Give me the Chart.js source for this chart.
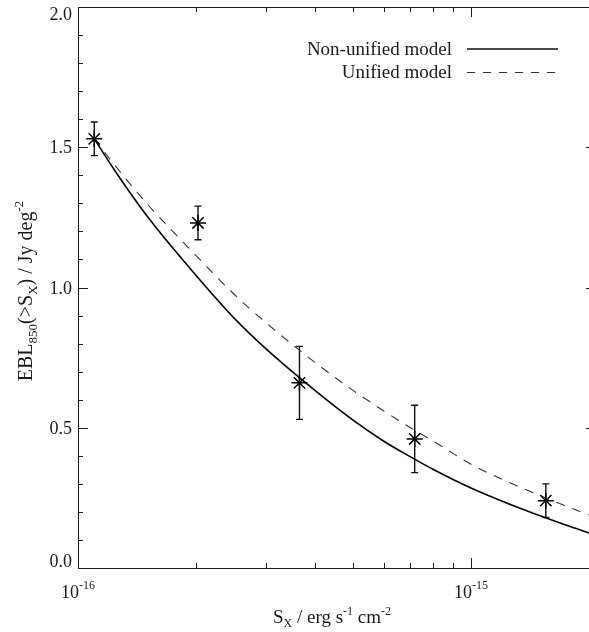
<!DOCTYPE html>
<html>
<head>
<meta charset="utf-8">
<script src="https://cdn.jsdelivr.net/npm/chart.js@4/dist/chart.umd.min.js"></script>
<style>
  html, body { margin: 0; padding: 0; background: #fff; overflow: hidden; }
  #wrap { width: 589px; height: 632px; overflow: hidden; }
</style>
</head>
<body>
<div id="wrap"><canvas id="c" width="597" height="632"></canvas></div>
<script>
// Measured cumulative 850-micron background above an X-ray flux limit
const fluxPoints = [1.10e-16, 2.02e-16, 3.66e-16, 7.19e-16, 1.55e-15];
const eblPoints  = [1.53, 1.23, 0.66, 0.46, 0.24];
const eblErrors  = [0.06, 0.06, 0.13, 0.12, 0.06];

// Model predictions
const modelFlux  = [1.1e-16, 1.25e-16, 1.5e-16, 2e-16, 2.5e-16, 3e-16, 4e-16, 5e-16,
                    6e-16, 7e-16, 8e-16, 1e-15, 1.25e-15, 1.5e-15, 1.75e-15, 2e-15];
const nonUnified = [1.53, 1.410, 1.254, 1.042, 0.890, 0.783, 0.634, 0.528,
                    0.452, 0.397, 0.352, 0.285, 0.228, 0.186, 0.152, 0.125];
const unified    = [1.53, 1.430, 1.298, 1.113, 0.975, 0.876, 0.734, 0.634,
                    0.560, 0.501, 0.453, 0.370, 0.305, 0.258, 0.220, 0.189];

// Axis ticks
const xMajorTicks = [1e-16, 1e-15];
const xMajorLabels = [['10', '-16'], ['10', '-15']];
const xMinorTicks = [2e-16, 3e-16, 4e-16, 5e-16, 6e-16, 7e-16, 8e-16, 9e-16, 2e-15];
const yMajorTicks = [0, 0.5, 1.0, 1.5, 2.0];
const yMajorLabels = ['0.0', '0.5', '1.0', '1.5', '2.0'];
const yMinorTicks = [0.1, 0.2, 0.3, 0.4, 0.6, 0.7, 0.8, 0.9, 1.1, 1.2, 1.3, 1.4, 1.6, 1.7, 1.8, 1.9];

const legendLabels = ['Non-unified model', 'Unified model'];

const FONT = '"Liberation Serif", "Times New Roman", serif';
const INK = '#1a1a1a';

function pairs(xs, ys) { return xs.map((x, i) => ({ x: x, y: ys[i] })); }

// Draw a run of text pieces with differing sizes / baseline shifts
function richText(ctx, parts, x, y, align) {
  let total = 0;
  parts.forEach(p => { ctx.font = p.size + 'px ' + FONT; total += ctx.measureText(p.t).width; });
  let cx = align === 'center' ? x - total / 2 : (align === 'right' ? x - total : x);
  ctx.textAlign = 'left';
  ctx.textBaseline = 'alphabetic';
  parts.forEach(p => {
    ctx.font = p.size + 'px ' + FONT;
    ctx.fillText(p.t, cx, y + (p.dy || 0));
    cx += ctx.measureText(p.t).width;
  });
}

const framePlugin = {
  id: 'frame',
  beforeDatasetsDraw(chart) {
    const { ctx, scales: { x, y } } = chart;
    ctx.save();
    // error bars
    ctx.strokeStyle = '#111';
    ctx.lineWidth = 1.4;
    fluxPoints.forEach((f, i) => {
      const px = x.getPixelForValue(f);
      const top = y.getPixelForValue(eblPoints[i] + eblErrors[i]);
      const bot = y.getPixelForValue(eblPoints[i] - eblErrors[i]);
      ctx.beginPath();
      ctx.moveTo(px, top); ctx.lineTo(px, bot);
      ctx.moveTo(px - 3.5, top); ctx.lineTo(px + 3.5, top);
      ctx.moveTo(px - 3.5, bot); ctx.lineTo(px + 3.5, bot);
      ctx.stroke();
    });
    ctx.restore();
  },
  afterDraw(chart) {
    const { ctx, chartArea: a, scales: { x, y } } = chart;
    ctx.save();
    ctx.strokeStyle = INK;
    ctx.lineWidth = 1;
    // frame
    ctx.strokeRect(a.left + 0.5, a.top + 0.5, a.right - a.left - 1, a.bottom - a.top);
    // ticks on all four sides, pointing inward
    ctx.beginPath();
    const xt = (v, len) => {
      const px = Math.round(x.getPixelForValue(v)) + 0.5;
      ctx.moveTo(px, a.bottom); ctx.lineTo(px, a.bottom - len);
      ctx.moveTo(px, a.top); ctx.lineTo(px, a.top + len);
    };
    const yt = (v, len) => {
      const py = Math.round(y.getPixelForValue(v)) + 0.5;
      ctx.moveTo(a.left, py); ctx.lineTo(a.left + len, py);
      ctx.moveTo(a.right, py); ctx.lineTo(a.right - len, py);
    };
    xMajorTicks.forEach(v => xt(v, 10));
    xMinorTicks.forEach(v => xt(v, 5));
    yMajorTicks.forEach(v => yt(v, 10));
    yMinorTicks.forEach(v => yt(v, 5));
    ctx.stroke();

    ctx.fillStyle = INK;
    // y tick labels
    ctx.font = '18px ' + FONT;
    ctx.textAlign = 'right';
    ctx.textBaseline = 'middle';
    yMajorTicks.forEach((v, i) => {
      const py = y.getPixelForValue(v);
      const cy = Math.min(Math.max(py + 1.5, a.top + 8), a.bottom - 6);
      ctx.fillText(yMajorLabels[i], a.left - 6, cy);
    });
    // x tick labels (power of ten)
    xMajorTicks.forEach((v, i) => {
      const px = x.getPixelForValue(v);
      richText(ctx, [
        { t: xMajorLabels[i][0], size: 18 },
        { t: xMajorLabels[i][1], size: 12, dy: -9 }
      ], px, a.bottom + 30, 'center');
    });
    // x axis title
    richText(ctx, [
      { t: 'S', size: 19 },
      { t: 'X', size: 12, dy: 4 },
      { t: ' / erg s', size: 19 },
      { t: '-1', size: 12, dy: -8 },
      { t: ' cm', size: 19 },
      { t: '-2', size: 12, dy: -8 }
    ], 332, 623, 'center');
    // y axis title
    ctx.save();
    ctx.translate(32, 291);
    ctx.rotate(-Math.PI / 2);
    richText(ctx, [
      { t: 'EBL', size: 20 },
      { t: '850', size: 13, dy: 5 },
      { t: '(>S', size: 20 },
      { t: 'X', size: 13, dy: 5 },
      { t: ') / Jy deg', size: 20 },
      { t: '-2', size: 13, dy: -9 }
    ], 0, 0, 'center');
    ctx.restore();

    // legend
    ctx.font = '19px ' + FONT;
    ctx.textAlign = 'right';
    ctx.textBaseline = 'alphabetic';
    ctx.fillText(legendLabels[0], 452, 55);
    ctx.fillText(legendLabels[1], 452, 78);
    ctx.lineWidth = 1.3;
    ctx.strokeStyle = '#111';
    ctx.beginPath(); ctx.moveTo(467, 49); ctx.lineTo(558, 49); ctx.stroke();
    ctx.setLineDash([8, 8]);
    ctx.strokeStyle = '#333';
    ctx.lineWidth = 1.1;
    ctx.beginPath(); ctx.moveTo(467, 72.5); ctx.lineTo(558, 72.5); ctx.stroke();
    ctx.restore();
  }
};

new Chart(document.getElementById('c').getContext('2d'), {
  type: 'scatter',
  data: {
    datasets: [
      {
        label: legendLabels[0],
        data: pairs(modelFlux, nonUnified),
        showLine: true,
        borderColor: '#000',
        borderWidth: 1.6,
        pointRadius: 0,
        cubicInterpolationMode: 'monotone',
        fill: false
      },
      {
        label: legendLabels[1],
        data: pairs(modelFlux, unified),
        showLine: true,
        borderColor: '#333',
        borderWidth: 1.1,
        borderDash: [9, 8],
        pointRadius: 0,
        cubicInterpolationMode: 'monotone',
        fill: false
      },
      {
        label: 'EBL',
        data: pairs(fluxPoints, eblPoints),
        showLine: false,
        pointStyle: 'star',
        pointRadius: 8,
        pointBorderWidth: 1.5,
        pointBorderColor: '#000',
        pointBackgroundColor: '#000'
      }
    ]
  },
  options: {
    responsive: false,
    animation: false,
    devicePixelRatio: 1,
    clip: false,
    layout: { autoPadding: false, padding: { left: 78, right: 1, top: 7, bottom: 64 } },
    scales: {
      x: { type: 'logarithmic', min: 1e-16, max: 2.08e-15, display: false },
      y: { type: 'linear', min: 0, max: 2, display: false }
    },
    plugins: { legend: { display: false }, tooltip: { enabled: false } }
  },
  plugins: [framePlugin]
});
</script>
</body>
</html>
